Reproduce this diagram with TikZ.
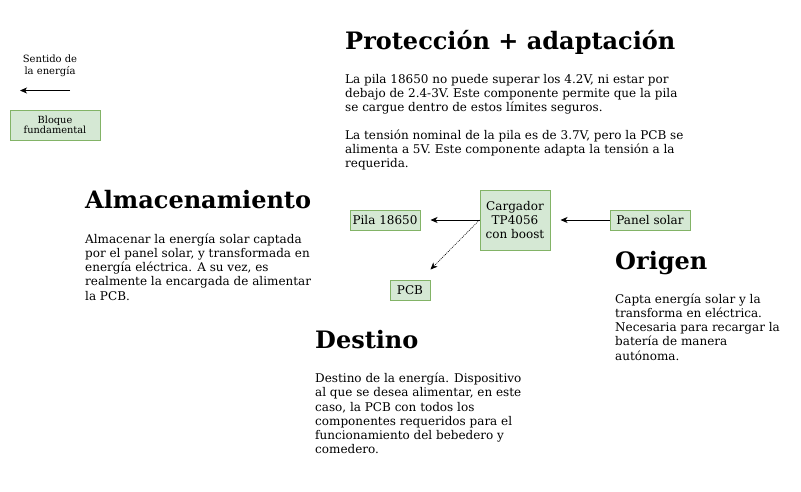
\documentclass[tikz,border=0pt]{standalone}
\usepackage{fontspec}
\setmainfont{DejaVu Serif}
\usetikzlibrary{arrows.meta}
\definecolor{boxfill}{HTML}{D5E8D4}
\definecolor{boxline}{HTML}{82B366}
\tikzset{
  blk/.style={draw=boxline, fill=boxfill, line width=1pt, inner sep=0pt, align=center, font=\fontsize{12}{14}\selectfont},
  body/.style={anchor=base west, inner sep=0pt, font=\fontsize{12}{14}\selectfont},
  small/.style={anchor=base, inner sep=0pt, font=\fontsize{10}{11}\selectfont},
  ttl/.style={anchor=base west, inner sep=0pt, font=\fontsize{24}{28}\selectfont\bfseries},
  flow/.style={line width=0.8pt, -{Stealth[length=7pt,width=6pt,inset=2pt]}},
  dotflow/.style={line width=0.6pt, dash pattern=on 1pt off 1pt, -{Stealth[length=7pt,width=6pt,inset=2pt]}},
}
\begin{document}
\begin{tikzpicture}[x=1pt,y=-1pt]
\useasboundingbox (0,0) rectangle (801,491);

% legend
\node[small] (leg1) at (50,62.7) {Sentido de};
\node[small] (leg2) at (50,74.3) {la energía};
\coordinate (la) at (70,90.5);
\coordinate (lb) at (20,90.5);
\draw[flow] (la) -- (lb);
\node[blk, minimum width=90pt, minimum height=30pt, font=\fontsize{9.8}{10}\selectfont] (bloque) at (55,125) {Bloque\\fundamental};

% blocks
\node[blk, minimum width=70pt, minimum height=20pt] (pila) at (385,220) {Pila 18650};
\node[blk, minimum width=70pt, minimum height=60pt] (carg) at (515,220) {Cargador\\TP4056\\con boost};
\node[blk, minimum width=80pt, minimum height=20pt] (panel) at (650,220) {Panel solar};
\node[blk, minimum width=40pt, minimum height=20pt] (pcb) at (410,290) {PCB};

\draw[flow, shorten >=10pt] (carg.west) -- (pila.east);
\draw[flow, shorten >=10pt] (panel.west) -- (carg.east);
\draw[dotflow] (carg.west) -- ([yshift=10pt]pcb.north east);

% Protección
\node[ttl] (tprot) at (345,49.3) {Protección + adaptación};
\foreach \t [count=\i] in {
  {La pila 18650 no puede superar los 4.2V, ni estar por},
  {debajo de 2.4-3V. Este componente permite que la pila},
  {se cargue dentro de estos límites seguros.}}
  \node[body] (prota\i) at (345,{83.3+14.1*(\i-1)}) {\t};
\foreach \t [count=\i] in {
  {La tensión nominal de la pila es de 3.7V, pero la PCB se},
  {alimenta a 5V. Este componente adapta la tensión a la},
  {requerida.}}
  \node[body] (protb\i) at (345,{139.3+14.1*(\i-1)}) {\t};

% Almacenamiento
\node[ttl] (talm) at (85,208.3) {Almacenamiento};
\foreach \t [count=\i] in {
  {Almacenar la energía solar captada},
  {por el panel solar, y transformada en},
  {energía eléctrica. A su vez, es},
  {realmente la encargada de alimentar},
  {la PCB.}}
  \node[body] (alm\i) at (85,{243.3+14.2*(\i-1)}) {\t};

% Origen
\node[ttl] (tori) at (615,269.3) {Origen};
\foreach \t [count=\i] in {
  {Capta energía solar y la},
  {transforma en eléctrica.},
  {Necesaria para recargar la},
  {batería de manera},
  {autónoma.}}
  \node[body] (ori\i) at (615,{303.3+14.2*(\i-1)}) {\t};

% Destino
\node[ttl] (tdes) at (315,348.3) {Destino};
\foreach \t [count=\i] in {
  {Destino de la energía. Dispositivo},
  {al que se desea alimentar, en este},
  {caso, la PCB con todos los},
  {componentes requeridos para el},
  {funcionamiento del bebedero y},
  {comedero.}}
  \node[body] (des\i) at (315,{382.7+14.2*(\i-1)}) {\t};
\end{tikzpicture}
\end{document}
